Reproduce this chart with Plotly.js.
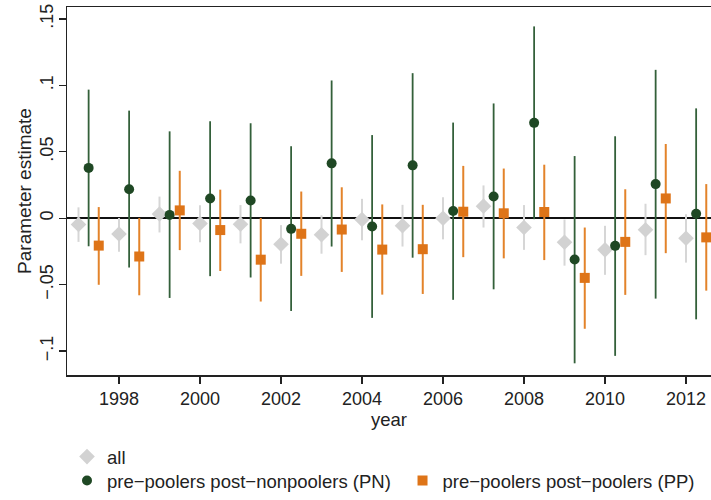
<!DOCTYPE html>
<html>
<head>
<meta charset="utf-8">
<script src="https://cdn.plot.ly/plotly-3.0.1.min.js"></script>
<style>
  html, body { margin: 0; padding: 0; background: #fff; }
  #chart { width: 711px; height: 500px; }
</style>
</head>
<body>
<div id="chart"></div>
<script>
const years = [1997, 1998, 1999, 2000, 2001, 2002, 2003, 2004, 2005, 2006, 2007, 2008, 2009, 2010, 2011, 2012];

// all
const allEst = [-0.0047, -0.0119, 0.0032, -0.0040, -0.0045, -0.0196, -0.0124, -0.0010, -0.0057, 0.0000, 0.0091, -0.0070, -0.0181, -0.0238, -0.0087, -0.0151];
const allHi  = [0.0082, 0.0002, 0.0163, 0.0097, 0.0099, -0.0052, 0.0022, 0.0146, 0.0101, 0.0158, 0.0247, 0.0099, -0.0010, -0.0057, 0.0109, 0.0030];
const allLo  = [-0.0178, -0.0253, -0.0107, -0.0181, -0.0189, -0.0342, -0.0267, -0.0166, -0.0213, -0.0159, -0.0070, -0.0238, -0.0357, -0.0426, -0.0278, -0.0334];

// pre-poolers post-nonpoolers (PN)
const pnEst = [0.0379, 0.0218, 0.0025, 0.0149, 0.0134, -0.0080, 0.0413, -0.0062, 0.0398, 0.0054, 0.0163, 0.0718, -0.0310, -0.0208, 0.0257, 0.0034];
const pnHi  = [0.0968, 0.0810, 0.0654, 0.0730, 0.0715, 0.0542, 0.1037, 0.0626, 0.1092, 0.0720, 0.0864, 0.1444, 0.0468, 0.0617, 0.1117, 0.0827];
const pnLo  = [-0.0211, -0.0371, -0.0600, -0.0436, -0.0446, -0.0698, -0.0213, -0.0750, -0.0297, -0.0614, -0.0535, -0.0007, -0.1092, -0.1036, -0.0605, -0.0761];

// pre-poolers post-poolers (PP)
const ppEst = [-0.0206, -0.0288, 0.0059, -0.0089, -0.0312, -0.0117, -0.0085, -0.0236, -0.0233, 0.0049, 0.0037, 0.0047, -0.0449, -0.0178, 0.0149, -0.0144];
const ppHi  = [0.0084, 0.0002, 0.0357, 0.0215, 0.0002, 0.0201, 0.0233, 0.0104, 0.0101, 0.0394, 0.0374, 0.0403, -0.0070, 0.0218, 0.0559, 0.0257];
const ppLo  = [-0.0501, -0.0580, -0.0240, -0.0397, -0.0627, -0.0434, -0.0404, -0.0575, -0.0570, -0.0293, -0.0302, -0.0315, -0.0832, -0.0577, -0.0263, -0.0545];

const yTickVals = [-0.1, -0.05, 0, 0.05, 0.1, 0.15];
const yTickText = ["\u2212.1", "\u2212.05", "0", ".05", ".1", ".15"];
const xTickVals = [1998, 2000, 2002, 2004, 2006, 2008, 2010, 2012];

const FONT = "Liberation Sans, Arial, sans-serif";

// series are dodged within each year
function shifted(off) { return years.map(y => y + off); }
function errBars(est, hi, lo, color, thick) {
  return {
    type: "data", symmetric: false,
    array: hi.map((h, i) => h - est[i]),
    arrayminus: est.map((e, i) => e - lo[i]),
    color: color, thickness: thick, width: 0
  };
}

const traces = [
  {
    name: "all", x: shifted(0), y: allEst,
    type: "scatter", mode: "markers",
    marker: { symbol: "diamond", size: 12, color: "#d2d2d2" },
    error_y: errBars(allEst, allHi, allLo, "#d6d6d6", 2),
    legend: "legend"
  },
  {
    name: "pre\u2212poolers post\u2212nonpoolers (PN)", x: shifted(0.25), y: pnEst,
    type: "scatter", mode: "markers",
    marker: { symbol: "circle", size: 10, color: "#1f4824" },
    error_y: errBars(pnEst, pnHi, pnLo, "#33603a", 1.8),
    legend: "legend2"
  },
  {
    name: "pre\u2212poolers post\u2212poolers (PP)", x: shifted(0.5), y: ppEst,
    type: "scatter", mode: "markers",
    marker: { symbol: "square", size: 10, color: "#de7418" },
    error_y: errBars(ppEst, ppHi, ppLo, "#e3832a", 2),
    legend: "legend3"
  }
];

// one legend box per key so the rows sit like the original
function legendBox(x, y) {
  return {
    x: x, xanchor: "left", y: y, yanchor: "middle",
    orientation: "h", font: { size: 18.5 }, bgcolor: "rgba(0,0,0,0)"
  };
}

const layout = {
  width: 711, height: 500,
  margin: { l: 67, r: 0, t: 7, b: 120 },
  paper_bgcolor: "#fff", plot_bgcolor: "#fff",
  font: { family: FONT, size: 18, color: "#222" },
  xaxis: {
    range: [1996.716, 2012.617],
    tickvals: xTickVals,
    ticks: "outside", ticklen: 7, tickwidth: 1.2, tickcolor: "#222",
    showline: true, linecolor: "#222", linewidth: 1.5, mirror: true,
    showgrid: false, zeroline: false,
    tickfont: { size: 18 },
    title: { text: "year", font: { size: 18.5 }, standoff: 4 }
  },
  yaxis: {
    range: [-0.118, 0.159],
    tickvals: yTickVals, ticktext: yTickText,
    tickangle: -90,
    ticks: "outside", ticklen: 7, tickwidth: 1.2, tickcolor: "#222",
    ticklabelstandoff: -2,
    showline: true, linecolor: "#222", linewidth: 1.5,
    showgrid: false,
    zeroline: true, zerolinecolor: "#111", zerolinewidth: 1.5,
    tickfont: { size: 18 },
    title: { text: "Parameter estimate", font: { size: 19 }, standoff: 0 }
  },
  showlegend: true,
  legend: legendBox(0.0, -0.223),
  legend2: legendBox(0.0, -0.2895),
  legend3: legendBox(0.521, -0.2895)
};

Plotly.newPlot("chart", traces, layout, { staticPlot: true, displayModeBar: false });
</script>
</body>
</html>
